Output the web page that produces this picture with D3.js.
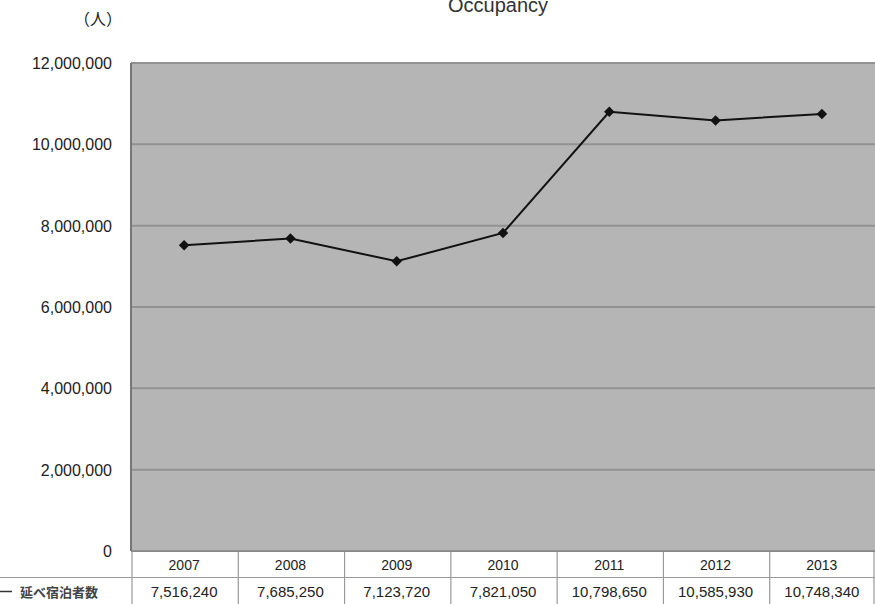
<!doctype html>
<html lang="ja">
<head>
  <meta charset="utf-8">
  <title>Occupancy</title>
  <script src="https://d3js.org/d3.v7.min.js"></script>
  <style>
    body { margin: 0; background: #fff; }
    text { font-family: "Liberation Sans", Arial, sans-serif; fill: #222; }
  </style>
</head>
<body>
<div id="my_chart"></div>
<script>
  // data
  const years = ['2007', '2008', '2009', '2010', '2011', '2012', '2013'];
  const guests = [7516240, 7685250, 7123720, 7821050, 10798650, 10585930, 10748340];
  const y_ticks = [0, 2000000, 4000000, 6000000, 8000000, 10000000, 12000000];
  const series_name = '延べ宿泊者数';
  const title = 'Occupancy';
  const unit = '（人）';

  const width = 875, height = 604;
  const margin = {top: 63, right: 0, bottom: 53, left: 131};
  const row_h = 26.5;

  const svg = d3.select('#my_chart').append('svg')
    .attr('width', width)
    .attr('height', height);

  const x = d3.scaleBand()
    .domain(years)
    .range([margin.left, width - margin.right]);
  const y = d3.scaleLinear()
    .domain([0, 12000000])
    .range([height - margin.bottom, margin.top]);

  // plot area
  svg.append('rect')
    .attr('x', margin.left)
    .attr('y', margin.top)
    .attr('width', width - margin.left - margin.right)
    .attr('height', y(0) - margin.top)
    .style('fill', '#b5b5b5');

  // gridlines
  svg.append('g').selectAll('line')
    .data(y_ticks)
    .enter().append('line')
      .attr('x1', margin.left)
      .attr('x2', width)
      .attr('y1', d => y(d))
      .attr('y2', d => y(d))
      .attr('stroke', '#929292')
      .attr('stroke-width', 2);

  // left border
  svg.append('line')
    .attr('x1', margin.left).attr('x2', margin.left)
    .attr('y1', margin.top).attr('y2', y(0))
    .attr('stroke', '#777').attr('stroke-width', 2);

  // y axis labels
  svg.append('g').selectAll('text')
    .data(y_ticks)
    .enter().append('text')
      .attr('x', 112)
      .attr('y', d => y(d) + 6)
      .attr('text-anchor', 'end')
      .style('font-size', '16px')
      .text(d => d3.format(',')(d));

  svg.append('text')
    .attr('x', 98)
    .attr('y', 25)
    .attr('text-anchor', 'middle')
    .style('font-family', '"Noto Sans CJK JP", sans-serif')
    .style('font-size', '16px')
    .text(unit);

  svg.append('text')
    .attr('x', 498)
    .attr('y', 12)
    .attr('text-anchor', 'middle')
    .style('font-size', '20px')
    .style('fill', '#333')
    .text(title);

  // line
  const line = d3.line()
    .x((d, i) => x(years[i]) + x.bandwidth() / 2)
    .y(d => y(d));

  svg.append('path')
    .datum(guests)
    .attr('d', line)
    .attr('fill', 'none')
    .attr('stroke', '#111')
    .attr('stroke-width', 2);

  svg.append('g').selectAll('path')
    .data(guests)
    .enter().append('path')
      .attr('d', d3.symbol().type(d3.symbolDiamond2).size(70))
      .attr('transform', (d, i) => 'translate(' + (x(years[i]) + x.bandwidth() / 2) + ',' + y(d) + ')')
      .attr('fill', '#111');

  // data table
  const t0 = y(0);
  const table = svg.append('g');
  table.selectAll('line.v')
    .data(years.concat(['end']))
    .enter().append('line')
      .attr('x1', (d, i) => i < years.length ? x(d) + 1 : width - 1)
      .attr('x2', (d, i) => i < years.length ? x(d) + 1 : width - 1)
      .attr('y1', t0)
      .attr('y2', height)
      .attr('stroke', '#999')
      .attr('stroke-width', 1.2);
  table.append('line')
    .attr('x1', 0).attr('x2', width)
    .attr('y1', t0 + row_h).attr('y2', t0 + row_h)
    .attr('stroke', '#999').attr('stroke-width', 1.2);
  table.append('line')
    .attr('x1', margin.left).attr('x2', width)
    .attr('y1', t0 + 0.5).attr('y2', t0 + 0.5)
    .attr('stroke', '#888');

  table.selectAll('text.year')
    .data(years)
    .enter().append('text')
      .attr('x', d => x(d) + x.bandwidth() / 2)
      .attr('y', t0 + 19)
      .attr('text-anchor', 'middle')
      .style('font-size', '14px')
      .text(d => d);

  table.selectAll('text.val')
    .data(guests)
    .enter().append('text')
      .attr('x', (d, i) => x(years[i]) + x.bandwidth() / 2)
      .attr('y', t0 + row_h + 19)
      .attr('text-anchor', 'middle')
      .style('font-size', '15px')
      .text(d => d3.format(',')(d));

  // legend key in table row
  table.append('line')
    .attr('x1', 0).attr('x2', 12)
    .attr('y1', t0 + row_h + 14).attr('y2', t0 + row_h + 14)
    .attr('stroke', '#333').attr('stroke-width', 1.5);
  table.append('text')
    .attr('x', 20)
    .attr('y', t0 + row_h + 19)
    .style('font-family', '"Noto Sans CJK JP", sans-serif')
    .style('font-size', '13px')
    .style('font-weight', 'bold')
    .style('fill', '#444')
    .text(series_name);
</script>
</body>
</html>
